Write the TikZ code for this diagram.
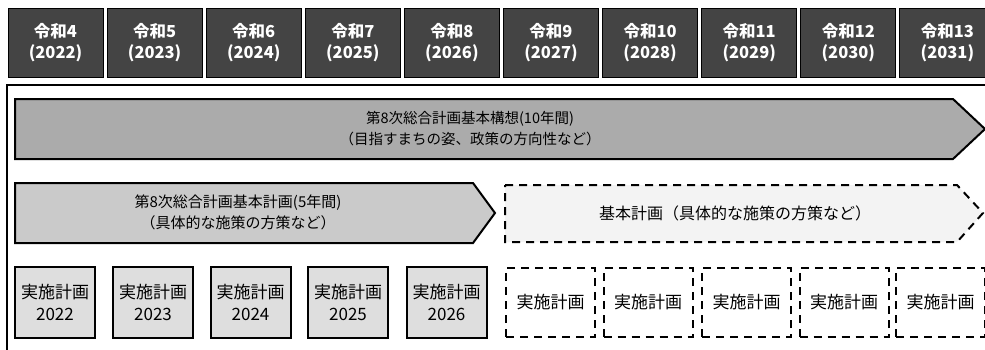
\documentclass[tikz,border=0pt]{standalone}
\usepackage{fontspec}
\setmainfont{Noto Sans CJK JP}
\definecolor{hdrfill}{HTML}{444444}
\definecolor{bigfill}{HTML}{ABABAB}
\definecolor{midfill}{HTML}{CACACA}
\definecolor{boxfill}{HTML}{DEDEDE}
\definecolor{futfill}{HTML}{F3F3F3}
\tikzset{
  hdr/.style={draw=black, line width=1pt, fill=hdrfill, text=white, font=\fontsize{16.5}{21}\selectfont\bfseries, align=center, minimum width=95pt, minimum height=69pt, inner sep=0pt},
  solidbox/.style={draw=black, line width=2pt, fill=boxfill, font=\fontsize{17}{22}\selectfont, align=center, minimum width=80pt, minimum height=71pt, inner sep=0pt},
  dashbox/.style={draw=black, line width=2pt, dash pattern=on 8pt off 6pt, fill=white, font=\fontsize{17}{22}\selectfont, align=center, minimum width=89pt, minimum height=69pt, inner sep=0pt},
  arrowshape/.style={draw=black, line width=2pt, line join=miter},
  lbl/.style={font=\fontsize{14.5}{21}\selectfont, align=center, inner sep=0pt},
}
\begin{document}
\begin{tikzpicture}[x=1pt,y=-1pt]
\useasboundingbox (0,0) rectangle (985,349);
\begin{scope}
\clip (0,0) rectangle (985,349);
% header year boxes
\foreach \i/\r/\y in {0/4/2022,1/5/2023,2/6/2024,3/7/2025,4/8/2026,5/9/2027,6/10/2028,7/11/2029,8/12/2030,9/13/2031}{
  \node[hdr] (h\i) at ({8+99.1*\i+47.5},42.5) {令和\r\\(\y)};
}
% frame
\coordinate (fbl) at (7,352);
\coordinate (ftl) at (7,85);
\coordinate (ftr) at (990,85);
\draw[line width=1.5pt] (fbl) -- (ftl) -- (ftr);
% 10-year arrow
\draw[arrowshape, fill=bigfill] (15,99) -- (953,99) -- (985,129) -- (953,159) -- (15,159) -- cycle;
\node[lbl] (kousou) at (470,128.5) {第8次総合計画基本構想(10年間)\\（目指すまちの姿、政策の方向性など）};
% 5-year arrow
\draw[arrowshape, fill=midfill] (15,183) -- (473,183) -- (495,213) -- (473,243) -- (15,243) -- cycle;
\node[lbl, font=\fontsize{15}{21}\selectfont] (keikaku) at (238,212.5) {第8次総合計画基本計画(5年間)\\（具体的な施策の方策など）};
% future dashed arrow
\draw[arrowshape, fill=futfill, dash pattern=on 8pt off 6pt] (505,185) -- (957,185) -- (983,213) -- (957,242) -- (505,242) -- cycle;
\node[lbl, font=\fontsize{16}{21}\selectfont] (kihon) at (735,213) {基本計画（具体的な施策の方策など）};
% implementation plans
\foreach \i/\x/\y in {1/55/2022,2/153/2023,3/250.5/2024,4/348/2025,5/446.5/2026}{
  \node[solidbox] (s\i) at (\x,302.5) {実施計画\\\y};
}
\foreach \i/\x in {6/550.5,7/648,8/746.5,9/844,10/940.5}{
  \node[dashbox] (d\i) at (\x,302.5) {実施計画};
}
\end{scope}
\end{tikzpicture}
\end{document}
